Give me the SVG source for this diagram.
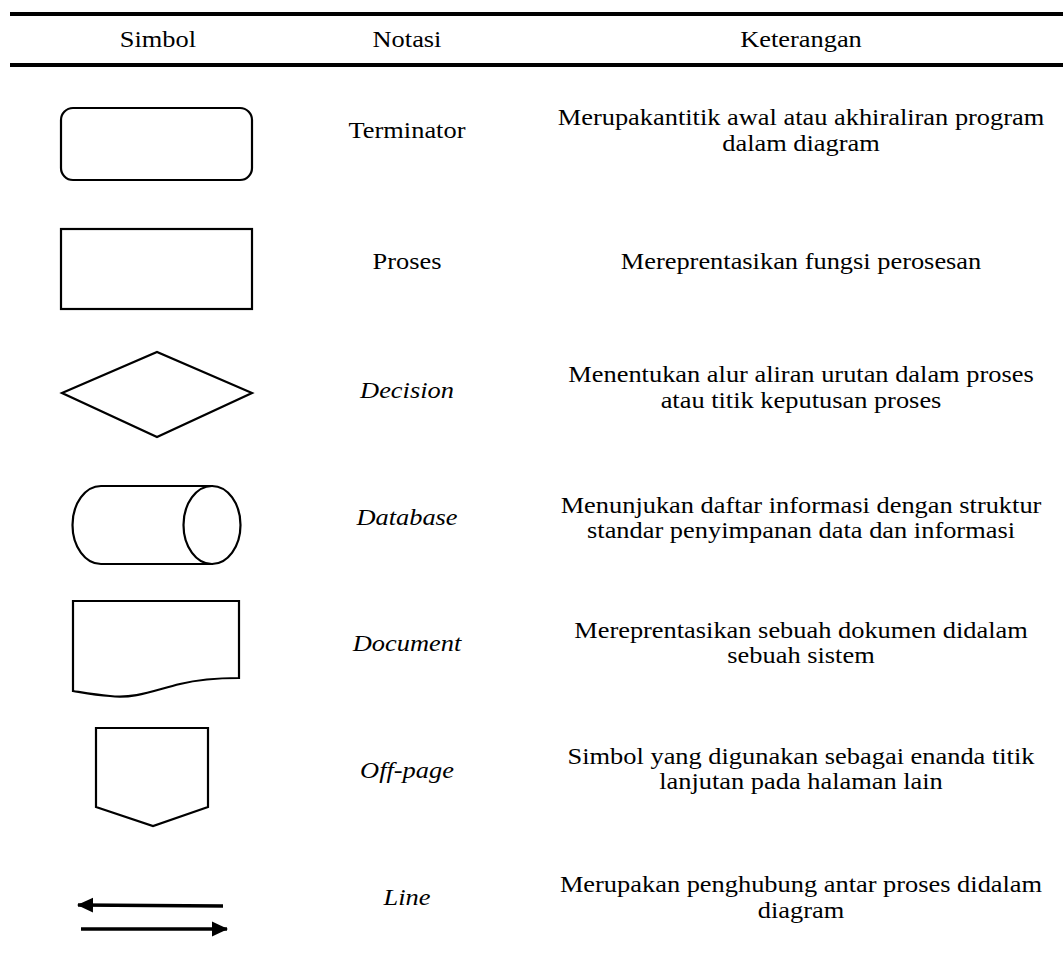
<svg xmlns="http://www.w3.org/2000/svg" width="1063" height="956" viewBox="0 0 1063 956">
  <style>
    .rule { stroke: #000; stroke-width: 4; }
    .shape { fill: #fff; stroke: #000; stroke-width: 2.2; stroke-linejoin: miter; }
    .txt { font-family: "Liberation Serif", "Times New Roman", serif; font-size: 24px; fill: #000; text-anchor: middle; }
    .it { font-style: italic; }
    .arrow { stroke: #000; stroke-width: 3.3; fill: none; }
  </style>
  <defs>
    <marker id="head" viewBox="0 0 16 16" refX="15" refY="8" markerWidth="16" markerHeight="16" markerUnits="userSpaceOnUse" orient="auto">
      <path d="M0,0.5 L16,8 L0,15.5 Z" fill="#000"/>
    </marker>
  </defs>
  <rect width="1063" height="956" fill="#fff"/>

  <!-- table rules -->
  <g id="rules">
    <line class="rule" x1="10" y1="14" x2="1063" y2="14"/>
    <line class="rule" x1="10" y1="65" x2="1063" y2="65"/>
  </g>

  <!-- symbols (left column) -->
  <g id="terminator-shape">
    <rect class="shape" x="61" y="108" width="191" height="72" rx="12" ry="12"/>
  </g>
  <g id="proses-shape">
    <rect class="shape" x="61" y="229" width="191" height="80"/>
  </g>
  <g id="decision-shape">
    <polygon class="shape" points="62,393 157,352 252,393 157,437"/>
  </g>
  <g id="database-shape">
    <path class="shape" d="M101,486 L212,486 L212,564 L101,564 A28.5,39 0 0 1 101,486 Z"/>
    <ellipse class="shape" cx="212" cy="525" rx="28.5" ry="39"/>
  </g>
  <g id="document-shape">
    <path class="shape" d="M73,601 L239,601 L239,678 C220,678 200,679 180,684 C155,690 135,699 110,696 C95,695 85,693 73,691 Z"/>
  </g>
  <g id="offpage-shape">
    <polygon class="shape" points="96,728 208,728 208,807 153,826 96,807"/>
  </g>
  <g id="connectors">
    <line class="arrow" x1="223" y1="906" x2="78" y2="905" marker-end="url(#head)"/>
    <line class="arrow" x1="81" y1="929" x2="227" y2="929" marker-end="url(#head)"/>
  </g>

  <!-- text, set slightly wide: x positions are divided by 1.1 -->
  <g transform="scale(1.1 1)">
    <g id="header">
      <text class="txt" x="143.6" y="47">Simbol</text>
      <text class="txt" x="370" y="47">Notasi</text>
      <text class="txt" x="728.2" y="47">Keterangan</text>
    </g>
    <g id="terminator">
      <text class="txt" x="370" y="138">Terminator</text>
      <text class="txt" x="728.2" y="125">Merupakantitik awal atau akhiraliran program</text>
      <text class="txt" x="728.2" y="151">dalam diagram</text>
    </g>
    <g id="proses">
      <text class="txt" x="370" y="269">Proses</text>
      <text class="txt" x="728.2" y="269">Mereprentasikan fungsi perosesan</text>
    </g>
    <g id="decision">
      <text class="txt it" x="370" y="398">Decision</text>
      <text class="txt" x="728.2" y="382">Menentukan alur aliran urutan dalam proses</text>
      <text class="txt" x="728.2" y="408">atau titik keputusan proses</text>
    </g>
    <g id="database">
      <text class="txt it" x="370" y="525">Database</text>
      <text class="txt" x="728.2" y="513">Menunjukan daftar informasi dengan struktur</text>
      <text class="txt" x="728.2" y="538">standar penyimpanan data dan informasi</text>
    </g>
    <g id="document">
      <text class="txt it" x="370" y="651">Document</text>
      <text class="txt" x="728.2" y="638">Mereprentasikan sebuah dokumen didalam</text>
      <text class="txt" x="728.2" y="663">sebuah sistem</text>
    </g>
    <g id="offpage">
      <text class="txt it" x="370" y="778">Off-page</text>
      <text class="txt" x="728.2" y="764">Simbol yang digunakan sebagai enanda titik</text>
      <text class="txt" x="728.2" y="789">lanjutan pada halaman lain</text>
    </g>
    <g id="line">
      <text class="txt it" x="370" y="905">Line</text>
      <text class="txt" x="728.2" y="892">Merupakan penghubung antar proses didalam</text>
      <text class="txt" x="728.2" y="918">diagram</text>
    </g>
  </g>
</svg>
